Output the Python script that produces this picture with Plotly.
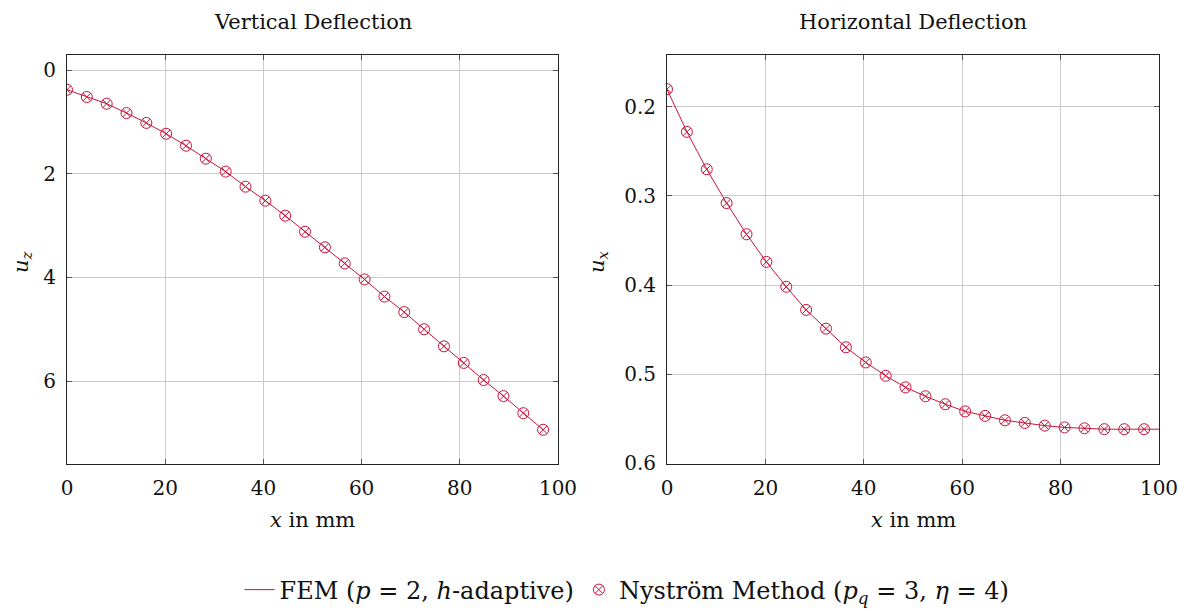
import plotly.graph_objects as go

# ---- data ----
x_mm = [0, 4.04, 8.08, 12.12, 16.16, 20.2, 24.24, 28.28, 32.32, 36.36, 40.4, 44.44,
        48.48, 52.53, 56.57, 60.61, 64.65, 68.69, 72.73, 76.77, 80.81, 84.85, 88.89,
        92.93, 96.97]
u_z = [0.38, 0.52, 0.65, 0.83, 1.02, 1.23, 1.46, 1.71, 1.96, 2.25, 2.52, 2.81,
       3.12, 3.42, 3.73, 4.04, 4.37, 4.67, 5.00, 5.33, 5.65, 5.98, 6.29, 6.62, 6.94]
u_x = [0.180, 0.228, 0.270, 0.308, 0.343, 0.374, 0.402, 0.428, 0.449, 0.470,
       0.487, 0.502, 0.515, 0.525, 0.534, 0.542, 0.547, 0.552, 0.555, 0.558,
       0.560, 0.561, 0.562, 0.562, 0.562]
fem_x_right = x_mm + [100]
fem_ux = u_x + [0.562]

x_ticks = [0, 20, 40, 60, 80, 100]
uz_ticks = [0, 2, 4, 6]
ux_ticks = [0.2, 0.3, 0.4, 0.5, 0.6]

titles = ["Vertical Deflection", "Horizontal Deflection"]
fem_name = "FEM (<i>p</i> = 2, <i>h</i>-adaptive)"
nys_name = "Nyström Method (<i>p<sub>q</sub></i> = 3, <i>η</i> = 4)"

# ---- styling ----
OFF = 8  # page body margin
W, H = 1187 - OFF, 611 - OFF
RED = "#c8143c"
FONT = "DejaVu Serif"
FS = 20

def px_x(p):
    return (p - OFF) / W

def px_y(p):
    return 1 - (p - OFF) / H

fig = go.Figure()

fig.add_trace(go.Scatter(x=x_mm, y=u_z, mode="lines", line=dict(color=RED, width=1),
                         name=fem_name, xaxis="x", yaxis="y", legendgroup="fem"))
fig.add_trace(go.Scatter(x=x_mm, y=u_z, mode="markers",
                         marker=dict(symbol="circle-x-open", size=11, color=RED,
                                     line=dict(width=1, color=RED)),
                         name=nys_name, xaxis="x", yaxis="y", legendgroup="nys"))
fig.add_trace(go.Scatter(x=fem_x_right, y=fem_ux, mode="lines", line=dict(color=RED, width=1),
                         name=fem_name, xaxis="x2", yaxis="y2", showlegend=False))
fig.add_trace(go.Scatter(x=x_mm, y=u_x, mode="markers",
                         marker=dict(symbol="circle-x-open", size=11, color=RED,
                                     line=dict(width=1, color=RED)),
                         name=nys_name, xaxis="x2", yaxis="y2", showlegend=False))

axis_common = dict(
    showline=True, linecolor="#222222", linewidth=1, mirror="ticks",
    ticks="inside", ticklen=5, tickcolor="#555555",
    showgrid=True, gridcolor="#cccccc", gridwidth=1, zeroline=False,
    tickfont=dict(family=FONT, size=FS, color="#111111"),
    automargin=False,
)

ydom = [px_y(464), px_y(55)]
fig.update_layout(
    width=W, height=H,
    margin=dict(l=0, r=0, t=0, b=0, autoexpand=False),
    paper_bgcolor="white", plot_bgcolor="white",
    font=dict(family=FONT, size=FS, color="#111111"),
    xaxis=dict(domain=[px_x(67), px_x(558)], range=[0, 100], tickvals=x_ticks,
               anchor="y", ticklabelstandoff=6, **axis_common),
    yaxis=dict(domain=ydom, range=[7.60, -0.29], tickvals=uz_ticks,
               anchor="x", ticklabelstandoff=6, **axis_common),
    xaxis2=dict(domain=[px_x(667), px_x(1159)], range=[0, 100], tickvals=x_ticks,
                anchor="y2", ticklabelstandoff=6, **axis_common),
    yaxis2=dict(domain=ydom, range=[0.6011, 0.1416], tickvals=ux_ticks, tickformat=".1f",
                anchor="x2", ticklabelstandoff=6, **axis_common),
    legend=dict(orientation="h", x=px_x(627), xanchor="center", y=px_y(590), yanchor="middle",
                font=dict(family=FONT, size=24, color="#111111"),
                bgcolor="rgba(0,0,0,0)", itemwidth=30, tracegroupgap=0),
    showlegend=True,
)

annots = [
    dict(text=titles[0], x=(px_x(67) + px_x(558)) / 2, y=px_y(22), size=21),
    dict(text=titles[1], x=(px_x(667) + px_x(1159)) / 2, y=px_y(22), size=21),
    dict(text="<i>x</i> in mm", x=(px_x(67) + px_x(558)) / 2, y=px_y(520), size=21),
    dict(text="<i>x</i> in mm", x=(px_x(667) + px_x(1159)) / 2, y=px_y(520), size=21),
    dict(text="<i>u<sub>z</sub></i>", x=px_x(22), y=px_y(262), textangle=-90, size=21),
    dict(text="<i>u<sub>x</sub></i>", x=px_x(598), y=px_y(262), textangle=-90, size=21),
]
for a in annots:
    size = a.pop("size")
    fig.add_annotation(xref="paper", yref="paper", xanchor="center", yanchor="middle",
                       showarrow=False, font=dict(family=FONT, size=size, color="#111111"), **a)

fig.write_html("out.html")
